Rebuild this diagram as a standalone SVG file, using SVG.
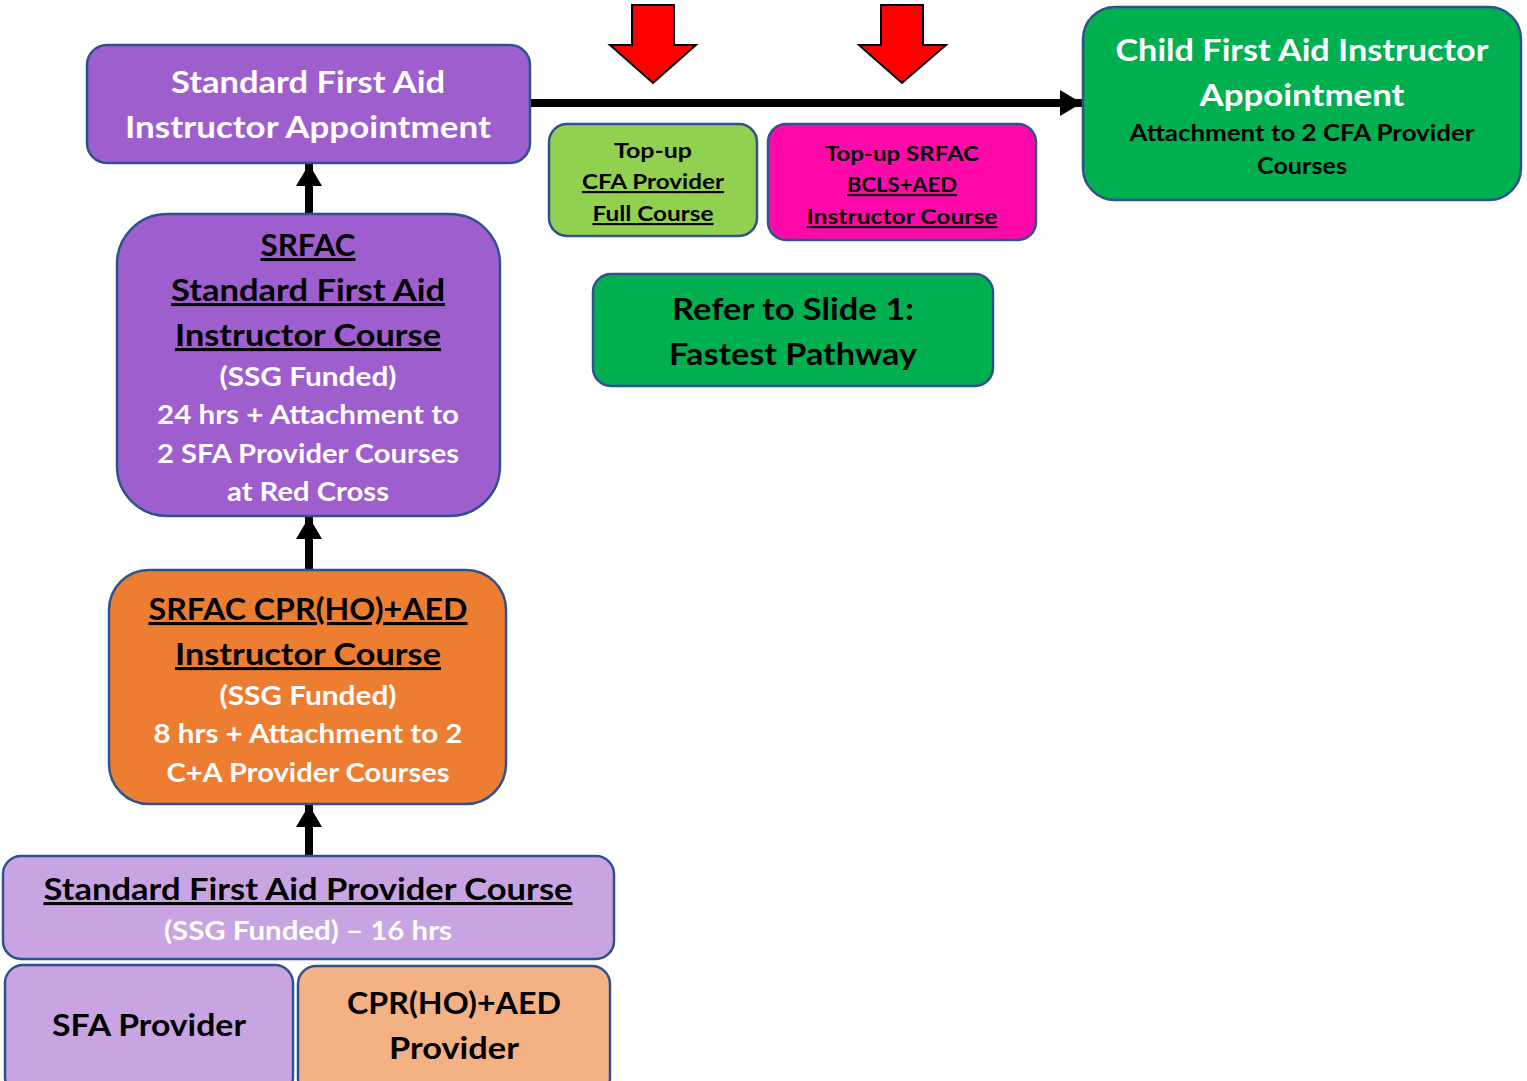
<svg xmlns="http://www.w3.org/2000/svg" width="1527" height="1081" viewBox="0 0 1527 1081">
<defs>
<style>
.box{stroke:#2F528F;stroke-width:2.5}
.t{font-family:Lato,"Open Sans","Liberation Sans",sans-serif;font-weight:bold;text-anchor:middle}
.w{fill:#FFFFFF}
.k{fill:#000000}
.u{text-decoration:underline}
.L{font-size:31px}
.M{font-size:26.5px}
.S{font-size:21.5px}
.conn{stroke:#000;stroke-width:8;fill:none}
.red{fill:#FF0000;stroke:#000;stroke-width:2}
</style>
<marker id="ah" markerUnits="userSpaceOnUse" markerWidth="24" markerHeight="26" refX="22" refY="13" orient="auto">
<path d="M0,0 L22,13 L0,26 Z" fill="#000"/>
</marker>
</defs>
<rect width="1527" height="1081" fill="#FFFFFF"/>

<g id="connectors">
<line class="conn" x1="530" y1="103" x2="1082" y2="103" marker-end="url(#ah)"/>
<line class="conn" x1="309" y1="214" x2="309" y2="164" marker-end="url(#ah)"/>
<line class="conn" x1="309" y1="570" x2="309" y2="517" marker-end="url(#ah)"/>
<line class="conn" x1="309" y1="856" x2="309" y2="805" marker-end="url(#ah)"/>
</g>

<g id="red-arrows">
<path class="red" d="M632,5 L674,5 L674,45 L696,45 L653,83 L610,45 L632,45 Z"/>
<path class="red" d="M881,5 L923,5 L923,45 L946,45 L902,83 L859,45 L881,45 Z"/>
</g>

<g id="sfa-instructor-appointment">
<rect class="box" x="87" y="45" width="443" height="118" rx="20" fill="#9E5ECE"/>
<text class="t w L" x="308" y="93" textLength="274" lengthAdjust="spacingAndGlyphs">Standard First Aid</text>
<text class="t w L" x="308" y="138" textLength="366" lengthAdjust="spacingAndGlyphs">Instructor Appointment</text>
</g>

<g id="cfa-instructor-appointment">
<rect class="box" x="1083" y="7" width="438" height="193" rx="32" fill="#00B050"/>
<text class="t w L" x="1302" y="61" textLength="373" lengthAdjust="spacingAndGlyphs">Child First Aid Instructor</text>
<text class="t w L" x="1302" y="106" textLength="205" lengthAdjust="spacingAndGlyphs">Appointment</text>
<text class="t k" font-size="23" x="1302" y="141" textLength="345" lengthAdjust="spacingAndGlyphs">Attachment to 2 CFA Provider</text>
<text class="t k" font-size="23" x="1302" y="174" textLength="90" lengthAdjust="spacingAndGlyphs">Courses</text>
</g>

<g id="topup-cfa">
<rect class="box" x="549" y="124" width="208" height="112" rx="18" fill="#92D050"/>
<text class="t k S" x="653" y="158" textLength="78" lengthAdjust="spacingAndGlyphs">Top-up</text>
<text class="t k S u" x="653" y="189" textLength="142" lengthAdjust="spacingAndGlyphs">CFA Provider</text>
<text class="t k S u" x="653" y="221" textLength="121" lengthAdjust="spacingAndGlyphs">Full Course</text>
</g>

<g id="topup-srfac">
<rect class="box" x="768" y="124" width="268" height="116" rx="18" fill="#FF09AA"/>
<text class="t k S" x="902" y="161" textLength="154" lengthAdjust="spacingAndGlyphs">Top-up SRFAC</text>
<text class="t k S u" x="902" y="192" textLength="110" lengthAdjust="spacingAndGlyphs">BCLS+AED</text>
<text class="t k S u" x="902" y="224" textLength="191" lengthAdjust="spacingAndGlyphs">Instructor Course</text>
</g>

<g id="refer-slide">
<rect class="box" x="593" y="274" width="400" height="112" rx="18" fill="#00B050"/>
<text class="t k L" x="793" y="320" textLength="242" lengthAdjust="spacingAndGlyphs">Refer to Slide 1:</text>
<text class="t k L" x="793" y="365" textLength="248" lengthAdjust="spacingAndGlyphs">Fastest Pathway</text>
</g>

<g id="srfac-sfa-instructor-course">
<rect class="box" x="117" y="214" width="383" height="302" rx="50" fill="#9E5ECE"/>
<text class="t k L u" x="308" y="256" textLength="95" lengthAdjust="spacingAndGlyphs">SRFAC</text>
<text class="t k L u" x="308" y="301" textLength="274" lengthAdjust="spacingAndGlyphs">Standard First Aid</text>
<text class="t k L u" x="308" y="346" textLength="266" lengthAdjust="spacingAndGlyphs">Instructor Course</text>
<text class="t w M" x="308" y="386" textLength="177" lengthAdjust="spacingAndGlyphs">(SSG Funded)</text>
<text class="t w M" x="308" y="424" textLength="302" lengthAdjust="spacingAndGlyphs">24 hrs + Attachment to</text>
<text class="t w M" x="308" y="463" textLength="302" lengthAdjust="spacingAndGlyphs">2 SFA Provider Courses</text>
<text class="t w M" x="308" y="501" textLength="162" lengthAdjust="spacingAndGlyphs">at Red Cross</text>
</g>

<g id="srfac-cpr-instructor-course">
<rect class="box" x="109" y="570" width="397" height="234" rx="40" fill="#ED7D31"/>
<text class="t k L u" x="308" y="620" textLength="319" lengthAdjust="spacingAndGlyphs">SRFAC CPR(HO)+AED</text>
<text class="t k L u" x="308" y="665" textLength="266" lengthAdjust="spacingAndGlyphs">Instructor Course</text>
<text class="t w M" x="308" y="705" textLength="177" lengthAdjust="spacingAndGlyphs">(SSG Funded)</text>
<text class="t w M" x="308" y="743" textLength="309" lengthAdjust="spacingAndGlyphs">8 hrs + Attachment to 2</text>
<text class="t w M" x="308" y="782" textLength="283" lengthAdjust="spacingAndGlyphs">C+A Provider Courses</text>
</g>

<g id="sfa-provider-course">
<rect class="box" x="3" y="856" width="611" height="103" rx="18" fill="#C8A5E2"/>
<text class="t k L u" x="308" y="900" textLength="529" lengthAdjust="spacingAndGlyphs">Standard First Aid Provider Course</text>
<text class="t w M" x="308" y="940" textLength="288" lengthAdjust="spacingAndGlyphs">(SSG Funded) – 16 hrs</text>
</g>

<g id="sfa-provider">
<rect class="box" x="5" y="965" width="288" height="130" rx="18" fill="#C8A5E2"/>
<text class="t k L" x="149" y="1036" textLength="194" lengthAdjust="spacingAndGlyphs">SFA Provider</text>
</g>

<g id="cpr-provider">
<rect class="box" x="298" y="966" width="312" height="130" rx="18" fill="#F4B183"/>
<text class="t k L" x="454" y="1014" textLength="214" lengthAdjust="spacingAndGlyphs">CPR(HO)+AED</text>
<text class="t k L" x="454" y="1059" textLength="130" lengthAdjust="spacingAndGlyphs">Provider</text>
</g>
</svg>
